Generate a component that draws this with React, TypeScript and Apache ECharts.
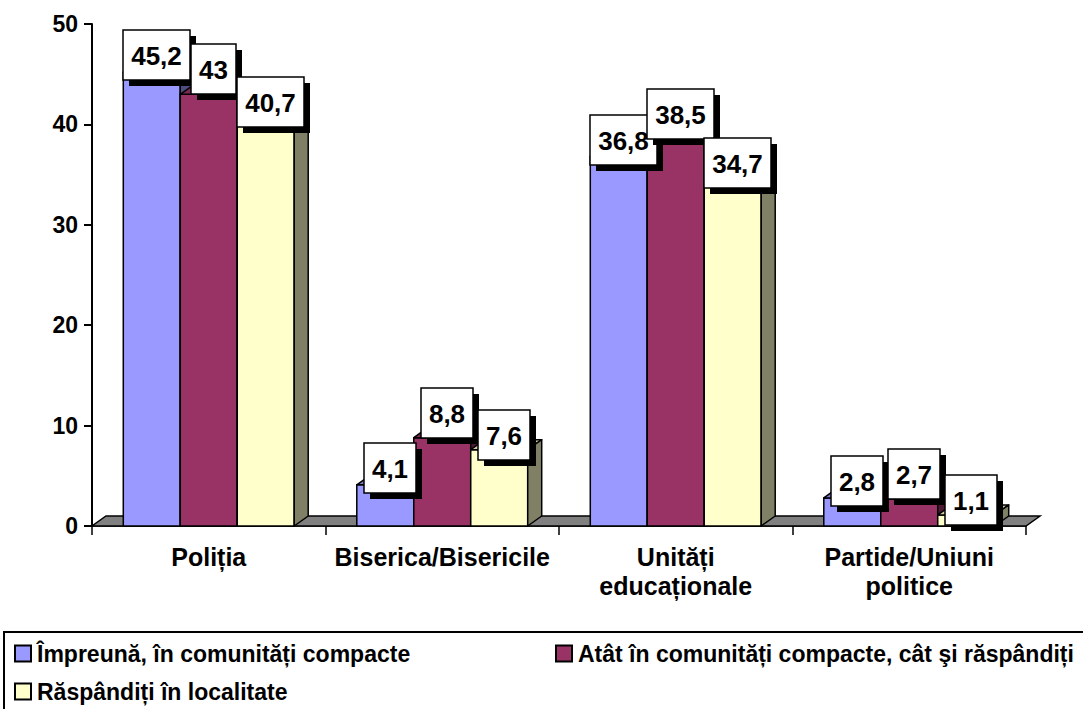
import React, { useEffect, useRef } from "react";
import * as echarts from "echarts";

const categories = ["Poliția", "Biserica/Bisericile", "Unități\neducaționale", "Partide/Uniuni\npolitice"];
const seriesNames = [
  "Împreună, în comunități compacte",
  "Atât în comunități compacte, cât şi răspândiți",
  "Răspândiți în localitate",
];
const impreuna = [45.2, 4.1, 36.8, 2.8];
const atatCat = [43, 8.8, 38.5, 2.7];
const raspanditi = [40.7, 7.6, 34.7, 1.1];
const yMin = 0;
const yMax = 50;
const yInterval = 10;

const FONT = '"Liberation Sans", Arial, sans-serif';
const frontColors = ["#9999FF", "#993366", "#FFFFCC"];
const topColors = ["#7A7ACC", "#7A2952", "#CCCCA3"];
const sideColors = ["#4D4D80", "#4D1A33", "#808066"];
const DX = 14;
const DY = 10;
const BAR_FRAC = 0.244;
const labelDy = [-17, -25, -15];
const labelDx = 5;

let measureCtx: CanvasRenderingContext2D | null = null;
function textWidth(t: string, font: string) {
  if (!measureCtx) measureCtx = document.createElement("canvas").getContext("2d");
  if (!measureCtx) return t.length * 14;
  measureCtx.font = font;
  return measureCtx.measureText(t).width;
}

export default function App() {
  const ref = useRef<HTMLDivElement>(null);
  useEffect(() => {
    if (!ref.current) return;
    const chart = echarts.init(ref.current, null, { renderer: "svg" });
    const allSeries = [impreuna, atatCat, raspanditi];
    const nCat = categories.length;

    const barSeries = allSeries.map((vals, s) => ({
      name: seriesNames[s],
      type: "custom",
      coordinateSystem: "cartesian2d",
      z: 3,
      silent: true,
      clip: false,
      itemStyle: { color: frontColors[s] },
      encode: { x: 0, y: 1 },
      data: vals.map((v, c) => [c, v]),
      renderItem: (params: any, api: any) => {
        const c = api.value(0);
        const v = api.value(1);
        const top = api.coord([c, v]);
        const base = api.coord([c, 0]);
        const band = api.size([1, 0])[0];
        const bw = band * BAR_FRAC;
        const x0 = top[0] - 1.5 * bw + s * bw;
        const ty = top[1];
        const by = base[1];
        const stroke = { stroke: "#000", lineWidth: 1.5 };
        return {
          type: "group",
          children: [
            {
              type: "rect",
              shape: { x: x0, y: ty, width: bw, height: by - ty },
              style: { fill: frontColors[s], ...stroke },
            },
            {
              type: "polygon",
              shape: { points: [[x0, ty], [x0 + bw, ty], [x0 + bw + DX, ty - DY], [x0 + DX, ty - DY]] },
              style: { fill: topColors[s], ...stroke, lineJoin: "round" },
            },
            {
              type: "polygon",
              shape: { points: [[x0 + bw, ty], [x0 + bw + DX, ty - DY], [x0 + bw + DX, by - DY], [x0 + bw, by]] },
              style: { fill: sideColors[s], ...stroke, lineJoin: "round" },
            },
          ],
        };
      },
    }));

    const floorSeries = {
      name: "floor",
      type: "custom",
      coordinateSystem: "cartesian2d",
      z: 2,
      silent: true,
      clip: false,
      encode: { x: 0, y: 1 },
      data: [[0, 0]],
      renderItem: (params: any, api: any) => {
        const a = api.coord([0, 0]);
        const b = api.coord([nCat - 1, 0]);
        const band = api.size([1, 0])[0];
        const l = a[0] - band / 2;
        const r = b[0] + band / 2;
        const y = a[1];
        return {
          type: "polygon",
          shape: { points: [[l, y], [r, y], [r + DX, y - DY], [l + DX, y - DY]] },
          style: { fill: "#808080", stroke: "#000", lineWidth: 1.5 },
        };
      },
    };

    const labelData: number[][] = [];
    allSeries.forEach((vals, s) => vals.forEach((v, c) => labelData.push([c, v, s])));
    const labelFont = `bold 26px ${FONT}`;
    const labelSeries = {
      name: "labels",
      type: "custom",
      coordinateSystem: "cartesian2d",
      z: 10,
      silent: true,
      clip: false,
      encode: { x: 0, y: 1 },
      data: labelData,
      renderItem: (params: any, api: any) => {
        const c = api.value(0);
        const v = api.value(1);
        const s = api.value(2);
        const p = api.coord([c, v]);
        const band = api.size([1, 0])[0];
        const bw = band * BAR_FRAC;
        const cx = p[0] - 1.5 * bw + (s + 0.5) * bw + labelDx;
        const cy = p[1] + labelDy[s];
        const txt = String(v).replace(".", ",");
        const w = Math.round(Math.max(textWidth(txt, labelFont), 24) + 16);
        const h = 50;
        const x = Math.round(cx - w / 2);
        const y = Math.round(cy - h / 2);
        return {
          type: "group",
          children: [
            { type: "rect", shape: { x: x + 6, y: y + 6, width: w, height: h }, style: { fill: "#000" } },
            {
              type: "rect",
              shape: { x, y, width: w, height: h },
              style: { fill: "#fff", stroke: "#000", lineWidth: 1.5 },
            },
            {
              type: "text",
              x: x + w / 2,
              y: y + h / 2 + 1,
              style: {
                text: txt,
                font: labelFont,
                fill: "#000",
                align: "center",
                verticalAlign: "middle",
              },
            },
          ],
        };
      },
    };

    const legendCommon = {
      orient: "horizontal",
      padding: 0,
      itemWidth: 16,
      itemHeight: 16,
      itemGap: 10,
      icon: "rect",
      itemStyle: { borderColor: "#000", borderWidth: 2 },
      textStyle: { fontFamily: FONT, fontWeight: "bold", fontSize: 23, color: "#000", padding: [0, 0, 0, 1] },
      selectedMode: false,
    };

    chart.setOption({
      animation: false,
      backgroundColor: "#fff",
      grid: { left: 92, right: 57, top: 24, bottom: 183, containLabel: false },
      xAxis: {
        type: "category",
        data: categories,
        boundaryGap: true,
        axisLine: { show: true, lineStyle: { color: "#000", width: 1.5 } },
        axisTick: { show: true, length: 9, lineStyle: { color: "#000", width: 1.5 } },
        axisLabel: {
          fontFamily: FONT,
          fontWeight: "bold",
          fontSize: 25,
          color: "#000",
          margin: 16,
          lineHeight: 29,
          interval: 0,
        },
        splitLine: { show: false },
      },
      yAxis: {
        type: "value",
        min: yMin,
        max: yMax,
        interval: yInterval,
        axisLine: { show: true, lineStyle: { color: "#000", width: 2 } },
        axisTick: { show: true, length: 8, lineStyle: { color: "#000", width: 2 } },
        axisLabel: { fontFamily: FONT, fontWeight: "bold", fontSize: 23, color: "#000", margin: 14 },
        splitLine: { show: false },
      },
      legend: [
        { ...legendCommon, data: [seriesNames[0]], left: 14, top: 642 },
        { ...legendCommon, data: [seriesNames[1]], left: 555, top: 642 },
        { ...legendCommon, data: [seriesNames[2]], left: 14, top: 680 },
      ],
      graphic: [
        {
          type: "rect",
          shape: { x: 4, y: 632, width: 1100, height: 100 },
          style: { fill: "none", stroke: "#000", lineWidth: 2 },
          silent: true,
          z: 0,
        },
      ],
      series: [floorSeries, ...barSeries, labelSeries],
    });
    return () => chart.dispose();
  }, []);

  return (
    <div
      ref={ref}
      style={{ position: "fixed", left: 0, top: 0, width: 1083, height: 709, background: "#fff" }}
    />
  );
}
